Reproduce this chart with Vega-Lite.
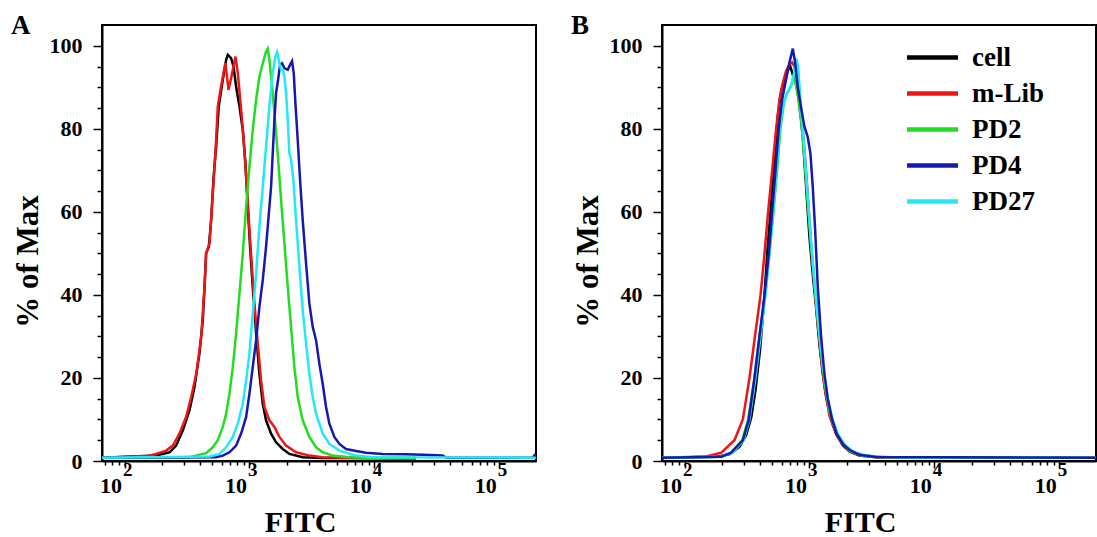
{
  "$schema": "https://vega.github.io/schema/vega-lite/v6.json",
  "background": "white",
  "padding": {"left": 10, "top": 11, "right": 0, "bottom": 0},
  "config": {
    "font": "Liberation Serif",
    "view": {"stroke": "black", "strokeWidth": 2},
    "axis": {"domainColor": "black", "domainWidth": 2, "tickColor": "black", "tickWidth": 1.5, "labelColor": "black", "titleColor": "black", "labelFont": "Liberation Serif", "titleFont": "Liberation Serif", "labelFontWeight": "bold", "titleFontWeight": "bold", "grid": false}
  },
  "datasets": {
    "A": [
      {"s":"cell","x":66,"y":0.8},{"s":"cell","x":179,"y":1.3},{"s":"cell","x":229,"y":2.1},{"s":"cell","x":259,"y":3.7},{"s":"cell","x":293,"y":7.4},{"s":"cell","x":331,"y":12.2},{"s":"cell","x":363,"y":17.8},{"s":"cell","x":398,"y":25.9},{"s":"cell","x":423,"y":33.9},{"s":"cell","x":437,"y":41.9},{"s":"cell","x":450,"y":50},{"s":"cell","x":473,"y":51.6},{"s":"cell","x":494,"y":58},{"s":"cell","x":515,"y":67.7},{"s":"cell","x":541,"y":75.7},{"s":"cell","x":568,"y":85.4},{"s":"cell","x":612,"y":91.8},{"s":"cell","x":651,"y":96.6},{"s":"cell","x":671,"y":97.8},{"s":"cell","x":713,"y":97},{"s":"cell","x":745,"y":95},{"s":"cell","x":782,"y":90.2},{"s":"cell","x":832,"y":85.4},{"s":"cell","x":885,"y":79.7},{"s":"cell","x":929,"y":71.7},{"s":"cell","x":970,"y":61.2},{"s":"cell","x":1012,"y":51.6},{"s":"cell","x":1063,"y":41.9},{"s":"cell","x":1131,"y":30.7},{"s":"cell","x":1202,"y":21},{"s":"cell","x":1279,"y":13.8},{"s":"cell","x":1359,"y":9.8},{"s":"cell","x":1491,"y":6.6},{"s":"cell","x":1634,"y":4.5},{"s":"cell","x":1848,"y":2.9},{"s":"cell","x":2089,"y":1.7},{"s":"cell","x":2671,"y":0.9},{"s":"cell","x":3861,"y":0.7},{"s":"cell","x":21544,"y":0.7},
      {"s":"m-Lib","x":66,"y":0.8},{"s":"m-Lib","x":154,"y":1.2},{"s":"m-Lib","x":179,"y":1.7},{"s":"m-Lib","x":215,"y":2.5},{"s":"m-Lib","x":244,"y":3.7},{"s":"m-Lib","x":275,"y":6.6},{"s":"m-Lib","x":311,"y":10.6},{"s":"m-Lib","x":342,"y":15.4},{"s":"m-Lib","x":375,"y":21},{"s":"m-Lib","x":411,"y":29.9},{"s":"m-Lib","x":437,"y":41.9},{"s":"m-Lib","x":450,"y":50},{"s":"m-Lib","x":479,"y":52.4},{"s":"m-Lib","x":509,"y":64.5},{"s":"m-Lib","x":541,"y":77.3},{"s":"m-Lib","x":558,"y":85.4},{"s":"m-Lib","x":593,"y":90.2},{"s":"m-Lib","x":642,"y":95.9},{"s":"m-Lib","x":680,"y":89.4},{"s":"m-Lib","x":727,"y":93.4},{"s":"m-Lib","x":773,"y":97.4},{"s":"m-Lib","x":807,"y":93.4},{"s":"m-Lib","x":858,"y":84.6},{"s":"m-Lib","x":895,"y":78.1},{"s":"m-Lib","x":941,"y":68.5},{"s":"m-Lib","x":988,"y":58},{"s":"m-Lib","x":1038,"y":48.4},{"s":"m-Lib","x":1097,"y":37.9},{"s":"m-Lib","x":1166,"y":28.3},{"s":"m-Lib","x":1240,"y":19.4},{"s":"m-Lib","x":1318,"y":13},{"s":"m-Lib","x":1445,"y":9.8},{"s":"m-Lib","x":1585,"y":8.2},{"s":"m-Lib","x":1738,"y":5.8},{"s":"m-Lib","x":1965,"y":3.7},{"s":"m-Lib","x":2362,"y":2.1},{"s":"m-Lib","x":3020,"y":1.3},{"s":"m-Lib","x":3861,"y":0.9},{"s":"m-Lib","x":7135,"y":0.7},{"s":"m-Lib","x":21544,"y":0.5},
      {"s":"PD2","x":66,"y":0.8},{"s":"PD2","x":331,"y":0.9},{"s":"PD2","x":450,"y":1.9},{"s":"PD2","x":509,"y":3.3},{"s":"PD2","x":558,"y":5},{"s":"PD2","x":612,"y":8.2},{"s":"PD2","x":651,"y":11.4},{"s":"PD2","x":692,"y":16.2},{"s":"PD2","x":736,"y":22.6},{"s":"PD2","x":782,"y":30.7},{"s":"PD2","x":832,"y":40.3},{"s":"PD2","x":885,"y":50},{"s":"PD2","x":941,"y":61.2},{"s":"PD2","x":1000,"y":70.9},{"s":"PD2","x":1063,"y":79.7},{"s":"PD2","x":1131,"y":87},{"s":"PD2","x":1202,"y":92.6},{"s":"PD2","x":1279,"y":95.8},{"s":"PD2","x":1359,"y":98.6},{"s":"PD2","x":1402,"y":99.3},{"s":"PD2","x":1445,"y":96.6},{"s":"PD2","x":1518,"y":90.2},{"s":"PD2","x":1585,"y":83.8},{"s":"PD2","x":1685,"y":74.1},{"s":"PD2","x":1792,"y":62.9},{"s":"PD2","x":1906,"y":52.4},{"s":"PD2","x":2026,"y":41.9},{"s":"PD2","x":2154,"y":32.3},{"s":"PD2","x":2291,"y":22.6},{"s":"PD2","x":2436,"y":15.4},{"s":"PD2","x":2671,"y":9.8},{"s":"PD2","x":3020,"y":5.8},{"s":"PD2","x":3415,"y":3.3},{"s":"PD2","x":3861,"y":2.1},{"s":"PD2","x":4642,"y":1.3},{"s":"PD2","x":6310,"y":0.9},{"s":"PD2","x":9697,"y":0.7},{"s":"PD2","x":21544,"y":0.7},
      {"s":"PD4","x":66,"y":0.8},{"s":"PD4","x":541,"y":0.9},{"s":"PD4","x":612,"y":1.3},{"s":"PD4","x":692,"y":2.1},{"s":"PD4","x":782,"y":3.7},{"s":"PD4","x":858,"y":6.6},{"s":"PD4","x":941,"y":10.6},{"s":"PD4","x":1000,"y":16.2},{"s":"PD4","x":1063,"y":22.6},{"s":"PD4","x":1131,"y":29.1},{"s":"PD4","x":1202,"y":37.1},{"s":"PD4","x":1279,"y":43.6},{"s":"PD4","x":1359,"y":51.6},{"s":"PD4","x":1445,"y":61.2},{"s":"PD4","x":1491,"y":66.1},{"s":"PD4","x":1537,"y":74.1},{"s":"PD4","x":1585,"y":82.1},{"s":"PD4","x":1634,"y":88.6},{"s":"PD4","x":1696,"y":91.8},{"s":"PD4","x":1759,"y":95.4},{"s":"PD4","x":1825,"y":95.8},{"s":"PD4","x":1906,"y":94.6},{"s":"PD4","x":2026,"y":94.2},{"s":"PD4","x":2115,"y":95.4},{"s":"PD4","x":2194,"y":96.3},{"s":"PD4","x":2263,"y":93.4},{"s":"PD4","x":2334,"y":86.2},{"s":"PD4","x":2436,"y":77.3},{"s":"PD4","x":2543,"y":67.7},{"s":"PD4","x":2671,"y":58},{"s":"PD4","x":2840,"y":47.6},{"s":"PD4","x":3020,"y":37.9},{"s":"PD4","x":3211,"y":32.3},{"s":"PD4","x":3415,"y":29.1},{"s":"PD4","x":3631,"y":23.4},{"s":"PD4","x":3861,"y":18.6},{"s":"PD4","x":4105,"y":13},{"s":"PD4","x":4365,"y":9},{"s":"PD4","x":4786,"y":5.8},{"s":"PD4","x":5248,"y":4.1},{"s":"PD4","x":5934,"y":2.9},{"s":"PD4","x":7135,"y":2.4},{"s":"PD4","x":8576,"y":2},{"s":"PD4","x":11659,"y":1.7},{"s":"PD4","x":17924,"y":1.6},{"s":"PD4","x":24357,"y":1.5},{"s":"PD4","x":35224,"y":1.3},{"s":"PD4","x":37445,"y":0.8},{"s":"PD4","x":184785,"y":0.8},{"s":"PD4","x":196500,"y":1.7},
      {"s":"PD27","x":66,"y":0.8},{"s":"PD27","x":479,"y":1.1},{"s":"PD27","x":575,"y":1.7},{"s":"PD27","x":651,"y":3.3},{"s":"PD27","x":736,"y":5.8},{"s":"PD27","x":807,"y":9},{"s":"PD27","x":885,"y":13.8},{"s":"PD27","x":941,"y":19.4},{"s":"PD27","x":1000,"y":25.9},{"s":"PD27","x":1063,"y":35.5},{"s":"PD27","x":1131,"y":45.2},{"s":"PD27","x":1202,"y":56.4},{"s":"PD27","x":1279,"y":66.1},{"s":"PD27","x":1359,"y":75.7},{"s":"PD27","x":1445,"y":85.4},{"s":"PD27","x":1537,"y":93.4},{"s":"PD27","x":1614,"y":97.4},{"s":"PD27","x":1665,"y":98.5},{"s":"PD27","x":1738,"y":95.8},{"s":"PD27","x":1792,"y":94.2},{"s":"PD27","x":1848,"y":94.2},{"s":"PD27","x":1906,"y":92.6},{"s":"PD27","x":1965,"y":88.6},{"s":"PD27","x":2026,"y":82.1},{"s":"PD27","x":2089,"y":74.1},{"s":"PD27","x":2154,"y":72.5},{"s":"PD27","x":2249,"y":67.7},{"s":"PD27","x":2362,"y":58},{"s":"PD27","x":2512,"y":46.8},{"s":"PD27","x":2671,"y":36.3},{"s":"PD27","x":2840,"y":28.3},{"s":"PD27","x":3020,"y":21},{"s":"PD27","x":3211,"y":15.4},{"s":"PD27","x":3415,"y":11.4},{"s":"PD27","x":3861,"y":6.6},{"s":"PD27","x":4365,"y":4.1},{"s":"PD27","x":5248,"y":2.5},{"s":"PD27","x":7135,"y":1.3},{"s":"PD27","x":9697,"y":0.9},{"s":"PD27","x":196500,"y":0.8}
    ],
    "B": [
      {"s":"cell","x":66,"y":0.8},{"s":"cell","x":179,"y":1},{"s":"cell","x":229,"y":1.6},{"s":"cell","x":275,"y":3.4},{"s":"cell","x":311,"y":6.2},{"s":"cell","x":342,"y":10.5},{"s":"cell","x":370,"y":17},{"s":"cell","x":403,"y":27},{"s":"cell","x":437,"y":40},{"s":"cell","x":464,"y":52},{"s":"cell","x":494,"y":62},{"s":"cell","x":525,"y":72},{"s":"cell","x":558,"y":83},{"s":"cell","x":593,"y":89},{"s":"cell","x":631,"y":92},{"s":"cell","x":671,"y":94},{"s":"cell","x":700,"y":95.2},{"s":"cell","x":736,"y":93},{"s":"cell","x":782,"y":91},{"s":"cell","x":832,"y":86},{"s":"cell","x":885,"y":78},{"s":"cell","x":941,"y":66},{"s":"cell","x":1000,"y":54},{"s":"cell","x":1063,"y":45},{"s":"cell","x":1131,"y":37},{"s":"cell","x":1202,"y":28},{"s":"cell","x":1279,"y":21},{"s":"cell","x":1359,"y":15.5},{"s":"cell","x":1491,"y":10},{"s":"cell","x":1634,"y":6.5},{"s":"cell","x":1848,"y":3.8},{"s":"cell","x":2089,"y":2.3},{"s":"cell","x":2512,"y":1.3},{"s":"cell","x":3415,"y":0.9},{"s":"cell","x":196500,"y":0.8},
      {"s":"m-Lib","x":66,"y":0.8},{"s":"m-Lib","x":149,"y":1.1},{"s":"m-Lib","x":197,"y":2},{"s":"m-Lib","x":251,"y":5},{"s":"m-Lib","x":293,"y":10},{"s":"m-Lib","x":331,"y":20},{"s":"m-Lib","x":370,"y":31},{"s":"m-Lib","x":406,"y":40},{"s":"m-Lib","x":437,"y":50},{"s":"m-Lib","x":467,"y":60},{"s":"m-Lib","x":503,"y":70},{"s":"m-Lib","x":541,"y":80},{"s":"m-Lib","x":575,"y":87},{"s":"m-Lib","x":612,"y":91},{"s":"m-Lib","x":651,"y":94},{"s":"m-Lib","x":692,"y":95.5},{"s":"m-Lib","x":727,"y":96},{"s":"m-Lib","x":759,"y":95},{"s":"m-Lib","x":807,"y":90},{"s":"m-Lib","x":858,"y":84},{"s":"m-Lib","x":912,"y":75},{"s":"m-Lib","x":970,"y":64},{"s":"m-Lib","x":1031,"y":52},{"s":"m-Lib","x":1097,"y":42},{"s":"m-Lib","x":1166,"y":33},{"s":"m-Lib","x":1240,"y":25},{"s":"m-Lib","x":1318,"y":18},{"s":"m-Lib","x":1445,"y":11},{"s":"m-Lib","x":1585,"y":7.5},{"s":"m-Lib","x":1792,"y":4.5},{"s":"m-Lib","x":2089,"y":2.5},{"s":"m-Lib","x":2512,"y":1.4},{"s":"m-Lib","x":3861,"y":0.9},{"s":"m-Lib","x":196500,"y":0.8},
      {"s":"PD2","x":66,"y":0.8},{"s":"PD2","x":190,"y":1},{"s":"PD2","x":236,"y":2},{"s":"PD2","x":289,"y":5},{"s":"PD2","x":323,"y":10},{"s":"PD2","x":363,"y":20},{"s":"PD2","x":398,"y":30},{"s":"PD2","x":442,"y":40},{"s":"PD2","x":479,"y":50},{"s":"PD2","x":515,"y":60},{"s":"PD2","x":551,"y":70},{"s":"PD2","x":586,"y":80},{"s":"PD2","x":623,"y":86},{"s":"PD2","x":659,"y":88.5},{"s":"PD2","x":692,"y":89.5},{"s":"PD2","x":727,"y":91},{"s":"PD2","x":749,"y":93},{"s":"PD2","x":773,"y":91},{"s":"PD2","x":807,"y":88},{"s":"PD2","x":858,"y":82},{"s":"PD2","x":912,"y":73},{"s":"PD2","x":970,"y":62},{"s":"PD2","x":1031,"y":52},{"s":"PD2","x":1097,"y":43},{"s":"PD2","x":1166,"y":34},{"s":"PD2","x":1240,"y":26},{"s":"PD2","x":1318,"y":19},{"s":"PD2","x":1445,"y":12},{"s":"PD2","x":1585,"y":8},{"s":"PD2","x":1792,"y":4.8},{"s":"PD2","x":2089,"y":2.5},{"s":"PD2","x":2671,"y":1.2},{"s":"PD2","x":3861,"y":0.9},{"s":"PD2","x":196500,"y":0.8},
      {"s":"PD27","x":66,"y":0.8},{"s":"PD27","x":197,"y":1},{"s":"PD27","x":244,"y":2},{"s":"PD27","x":297,"y":5},{"s":"PD27","x":331,"y":10},{"s":"PD27","x":370,"y":20},{"s":"PD27","x":406,"y":30},{"s":"PD27","x":445,"y":40},{"s":"PD27","x":479,"y":50},{"s":"PD27","x":512,"y":60},{"s":"PD27","x":545,"y":70},{"s":"PD27","x":579,"y":80},{"s":"PD27","x":619,"y":86},{"s":"PD27","x":671,"y":89},{"s":"PD27","x":713,"y":90.5},{"s":"PD27","x":749,"y":93},{"s":"PD27","x":782,"y":97},{"s":"PD27","x":812,"y":95},{"s":"PD27","x":842,"y":88},{"s":"PD27","x":895,"y":78},{"s":"PD27","x":952,"y":67},{"s":"PD27","x":1012,"y":56},{"s":"PD27","x":1076,"y":46},{"s":"PD27","x":1145,"y":37},{"s":"PD27","x":1217,"y":29},{"s":"PD27","x":1294,"y":22},{"s":"PD27","x":1402,"y":15},{"s":"PD27","x":1537,"y":10},{"s":"PD27","x":1685,"y":6.5},{"s":"PD27","x":1906,"y":4},{"s":"PD27","x":2222,"y":2.3},{"s":"PD27","x":2671,"y":1.5},{"s":"PD27","x":3415,"y":1.1},{"s":"PD27","x":4365,"y":0.95},{"s":"PD27","x":6710,"y":0.85},{"s":"PD27","x":196500,"y":0.8},
      {"s":"PD4","x":66,"y":0.8},{"s":"PD4","x":197,"y":1},{"s":"PD4","x":236,"y":2},{"s":"PD4","x":293,"y":5},{"s":"PD4","x":327,"y":10},{"s":"PD4","x":363,"y":20},{"s":"PD4","x":398,"y":30},{"s":"PD4","x":437,"y":40},{"s":"PD4","x":473,"y":50},{"s":"PD4","x":503,"y":60},{"s":"PD4","x":535,"y":70},{"s":"PD4","x":568,"y":80},{"s":"PD4","x":604,"y":87},{"s":"PD4","x":651,"y":92},{"s":"PD4","x":692,"y":96},{"s":"PD4","x":736,"y":99.3},{"s":"PD4","x":768,"y":96},{"s":"PD4","x":807,"y":90},{"s":"PD4","x":858,"y":85},{"s":"PD4","x":912,"y":80.5},{"s":"PD4","x":970,"y":78},{"s":"PD4","x":1019,"y":74},{"s":"PD4","x":1063,"y":66},{"s":"PD4","x":1110,"y":56},{"s":"PD4","x":1166,"y":42},{"s":"PD4","x":1240,"y":30},{"s":"PD4","x":1318,"y":21},{"s":"PD4","x":1402,"y":15},{"s":"PD4","x":1518,"y":10},{"s":"PD4","x":1655,"y":6.5},{"s":"PD4","x":1848,"y":4.2},{"s":"PD4","x":2089,"y":2.7},{"s":"PD4","x":2512,"y":1.5},{"s":"PD4","x":3415,"y":0.95},{"s":"PD4","x":196500,"y":0.8}
    ]
  },
  "spacing": 126,
  "bounds": "flush",
  "resolve": {"scale": {"color": "independent"}, "legend": {"color": "independent"}},
  "hconcat": [
    {
      "title": {"text": "A", "anchor": "start", "frame": "group", "dx": -91, "dy": 28, "offset": -8, "baseline": "alphabetic", "fontSize": 27, "fontWeight": "bold", "font": "Liberation Serif", "color": "black"},
      "width": 434,
      "height": 436,
      "data": {"name": "A"},
      "resolve": {"axis": {"x": "independent"}},
      "layer": [
        {
          "mark": {"type": "line", "clip": true, "strokeWidth": 2.5},
          "encoding": {
            "x": {"field": "x", "type": "quantitative", "scale": {"type": "log", "domain": [66, 197000], "nice": false},
              "axis": {"orient": "bottom", "values": [70,80,90,100,200,300,400,500,600,700,800,900,1000,2000,3000,4000,5000,6000,7000,8000,9000,10000,20000,30000,40000,50000,60000,70000,80000,90000,100000],
                "labelExpr": "indexof([100,1000,10000,100000], datum.value) >= 0 ? '10' : ''",
                "tickSize": {"condition": {"test": "indexof([100,1000,10000,100000], datum.value) >= 0", "value": 7}, "value": 4},
                "labelFontSize": 22, "labelAlign": "right", "labelOffset": -3, "labelBaseline": "alphabetic", "labelPadding": 24, "labelFlush": false, "labelOverlap": false, "labelBound": false,
                "title": "FITC", "titleFontSize": 30, "titleX": 198, "titleY": 70, "titleBaseline": "alphabetic", "titleAlign": "center"}},
            "y": {"field": "y", "type": "quantitative", "scale": {"domain": [0, 105], "nice": false, "zero": false},
              "axis": {"values": [0,5,10,15,20,25,30,35,40,45,50,55,60,65,70,75,80,85,90,95,100],
                "labelExpr": "datum.value % 20 === 0 ? datum.label : ''",
                "tickSize": {"condition": {"test": "datum.value % 20 === 0", "value": 9}, "value": 5},
                "labelFontSize": 22, "labelPadding": 11, "labelBaseline": "middle", "labelFlush": false, "labelOverlap": false,
                "title": "% of Max", "titleFontSize": 31, "titleX": -65, "titleY": 236, "titleAngle": 270, "titleAlign": "center", "titleBaseline": "alphabetic"}},
            "color": {"field": "s", "type": "nominal", "scale": {"domain": ["cell", "m-Lib", "PD2", "PD4", "PD27"], "range": ["#000000", "#ee1515", "#22dd22", "#1818b0", "#22eaf5"]}, "legend": null}
          }
        },
        {
          "mark": {"type": "line", "opacity": 0},
          "encoding": {
            "x": {"field": "x", "type": "quantitative",
              "axis": {"orient": "bottom", "values": [100, 1000, 10000, 100000], "labelExpr": "round(log(datum.value)/LN10) + ''", "ticks": false, "domain": false,
                "labelFontSize": 19, "labelAlign": "left", "labelOffset": -2, "labelBaseline": "alphabetic", "labelPadding": 14, "labelFlush": false, "labelOverlap": false, "title": null}}
          }
        }
      ]
    },
    {
      "title": {"text": "B", "anchor": "start", "frame": "group", "dx": -91, "dy": 28, "offset": -8, "baseline": "alphabetic", "fontSize": 27, "fontWeight": "bold", "font": "Liberation Serif", "color": "black"},
      "width": 434,
      "height": 436,
      "data": {"name": "B"},
      "resolve": {"axis": {"x": "independent"}},
      "layer": [
        {
          "mark": {"type": "line", "clip": true, "strokeWidth": 2.5},
          "encoding": {
            "x": {"field": "x", "type": "quantitative", "scale": {"type": "log", "domain": [66, 197000], "nice": false},
              "axis": {"orient": "bottom", "values": [70,80,90,100,200,300,400,500,600,700,800,900,1000,2000,3000,4000,5000,6000,7000,8000,9000,10000,20000,30000,40000,50000,60000,70000,80000,90000,100000],
                "labelExpr": "indexof([100,1000,10000,100000], datum.value) >= 0 ? '10' : ''",
                "tickSize": {"condition": {"test": "indexof([100,1000,10000,100000], datum.value) >= 0", "value": 7}, "value": 4},
                "labelFontSize": 22, "labelAlign": "right", "labelOffset": -3, "labelBaseline": "alphabetic", "labelPadding": 24, "labelFlush": false, "labelOverlap": false, "labelBound": false,
                "title": "FITC", "titleFontSize": 30, "titleX": 198, "titleY": 70, "titleBaseline": "alphabetic", "titleAlign": "center"}},
            "y": {"field": "y", "type": "quantitative", "scale": {"domain": [0, 105], "nice": false, "zero": false},
              "axis": {"values": [0,5,10,15,20,25,30,35,40,45,50,55,60,65,70,75,80,85,90,95,100],
                "labelExpr": "datum.value % 20 === 0 ? datum.label : ''",
                "tickSize": {"condition": {"test": "datum.value % 20 === 0", "value": 9}, "value": 5},
                "labelFontSize": 22, "labelPadding": 11, "labelBaseline": "middle", "labelFlush": false, "labelOverlap": false,
                "title": "% of Max", "titleFontSize": 31, "titleX": -65, "titleY": 236, "titleAngle": 270, "titleAlign": "center", "titleBaseline": "alphabetic"}},
            "color": {"field": "s", "type": "nominal", "scale": {"domain": ["cell", "m-Lib", "PD2", "PD4", "PD27"], "range": ["#000000", "#ee1515", "#22dd22", "#1818b0", "#22eaf5"]},
              "legend": {"orient": "none", "legendX": 257, "legendY": 19, "title": null, "symbolType": "M-5.1,0H5.1", "symbolStrokeWidth": 4.5, "symbolSize": 100, "symbolOpacity": 1, "symbolFillColor": "transparent",
                "labelFontSize": 27, "labelFont": "Liberation Serif", "labelFontWeight": "bold", "labelColor": "black", "labelOffset": 26, "rowPadding": 8, "padding": 0}}
          }
        },
        {
          "mark": {"type": "line", "opacity": 0},
          "encoding": {
            "x": {"field": "x", "type": "quantitative",
              "axis": {"orient": "bottom", "values": [100, 1000, 10000, 100000], "labelExpr": "round(log(datum.value)/LN10) + ''", "ticks": false, "domain": false,
                "labelFontSize": 19, "labelAlign": "left", "labelOffset": -2, "labelBaseline": "alphabetic", "labelPadding": 14, "labelFlush": false, "labelOverlap": false, "title": null}}
          }
        }
      ]
    }
  ]
}
